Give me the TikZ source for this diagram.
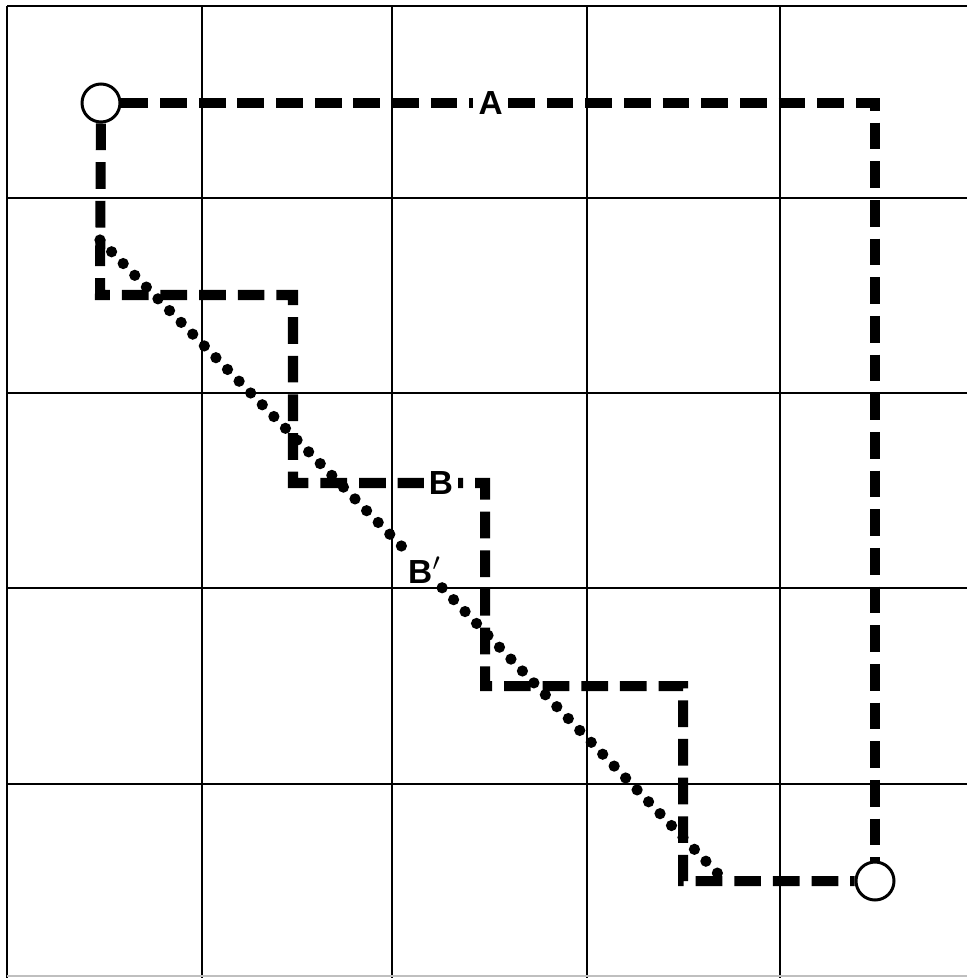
\documentclass[tikz,border=0pt]{standalone}
\usepackage{fontspec}
\setmainfont{Liberation Sans}
\begin{document}
\begin{tikzpicture}[x=0.1mm, y=-0.1mm,
  every node/.style={font=\fontsize{9.5}{10}\selectfont\bfseries},
  gridline/.style={line width=0.6pt},
  route/.style={line width=2.85pt, dash pattern=on 7.6pt off 3.4pt},
  chord/.style={line width=3.2pt, line cap=round, dash pattern=on 0pt off 4.7pt},
  endpt/.style={circle, draw, line width=0.85pt, fill=white, minimum size=3.8mm, inner sep=0pt},
  lbl/.style={fill=white, inner sep=1.5pt}]
\useasboundingbox (0,0) rectangle (967,978);
% grid
\foreach \gx in {7,202,392,587,780} \draw[gridline] (\gx,6) -- (\gx,978);
\foreach \gy in {6,198,393,588,784} \draw[gridline] (7,\gy) -- (967,\gy);
\draw[gray!50, line width=0.6pt] (7,976) -- (967,976);
% end points
\node[endpt] (start) at (101,103) {};
\node[endpt] (finish) at (875,881) {};
\coordinate (cornerA) at (875,103);
\coordinate (chordA) at (100,240);
\coordinate (chordB) at (725,881);
% route A
\draw[route] (start) -- node[lbl, pos=0.49] (labA) {A} (cornerA) -- (finish);
% route B
\draw[route] (start) -- (100,295) -- (293,295) -- (293,483)
  -- node[lbl, pos=0.77] (labB) {B} (485,483) -- (485,686) -- (683,686) -- (683,881) -- (finish);
% route B'
\node[inner sep=1pt] (labBp) at (425,570) {B$'$};
\draw[chord] (chordA) -- (labBp) -- (chordB);
\end{tikzpicture}
\end{document}
